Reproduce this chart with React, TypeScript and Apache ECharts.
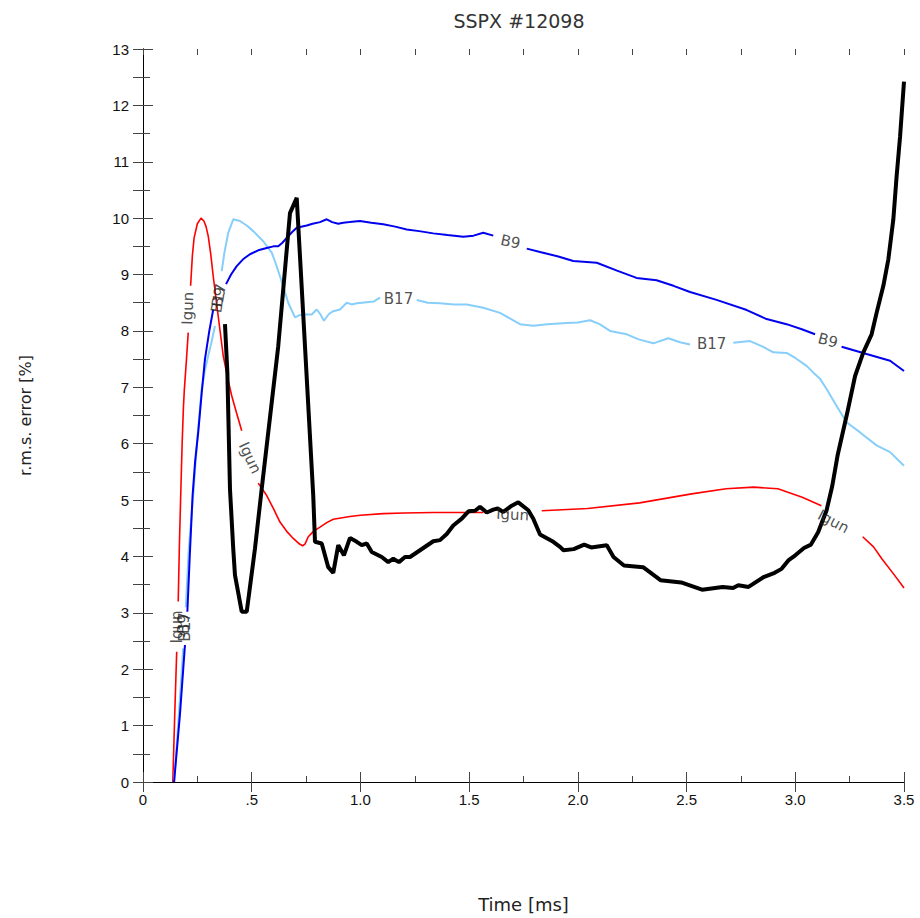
import React, { useEffect, useRef } from "react";
import * as echarts from "echarts";

// Igun (red)
const igun: any[] = [
  [0.137, 0], [0.146, 1.2], [0.155, 2.31], "-",
  [0.162, 3.2], [0.167, 4.14], [0.173, 5.02], [0.18, 6.0], [0.186, 6.65], [0.188, 6.8], [0.19, 6.95], [0.2, 7.5], [0.208, 7.97], "-",
  [0.219, 8.8], [0.227, 9.33], [0.235, 9.65], [0.25, 9.9], [0.267, 10.0], [0.28, 9.95], [0.29, 9.85], [0.3, 9.68], [0.312, 9.35],
  [0.323, 8.97], [0.342, 8.38], [0.369, 7.56], [0.39, 7.15], [0.408, 6.85], [0.43, 6.55], [0.454, 6.23], "-",
  [0.53, 5.3], [0.569, 5.08], [0.6, 4.85], [0.63, 4.61], [0.66, 4.45], [0.691, 4.32], [0.72, 4.22], [0.734, 4.19], [0.745, 4.22],
  [0.76, 4.35], [0.785, 4.45], [0.814, 4.52], [0.845, 4.6], [0.875, 4.66], [0.952, 4.71], [1.0, 4.73], [1.105, 4.76], [1.2, 4.77],
  [1.335, 4.78], [1.45, 4.78], [1.565, 4.78], "-",
  [1.834, 4.81], [2.045, 4.85], [2.284, 4.95], [2.523, 5.11], [2.682, 5.2], [2.809, 5.23], [2.92, 5.2], [3.032, 5.05], [3.12, 4.9], "-",
  [3.31, 4.35], [3.36, 4.17], [3.398, 3.96], [3.45, 3.7], [3.5, 3.44],
];

// B9 (blue)
const b9: any[] = [
  [0.143, 0], [0.17, 1.2], [0.193, 2.43], "-",
  [0.204, 3.02], [0.215, 4.0], [0.228, 5.08], [0.24, 5.7], [0.254, 6.2], [0.27, 6.9], [0.285, 7.5], [0.305, 8.0], [0.323, 8.38], "-",
  [0.382, 8.83], [0.405, 9.0], [0.431, 9.15], [0.46, 9.27], [0.492, 9.36], [0.53, 9.43], [0.569, 9.47], [0.6, 9.5], [0.622, 9.5],
  [0.64, 9.56], [0.661, 9.65], [0.685, 9.75], [0.707, 9.83], [0.753, 9.87], [0.78, 9.9], [0.814, 9.93], [0.845, 9.98], [0.87, 9.93],
  [0.898, 9.9], [0.921, 9.92], [0.95, 9.93], [0.998, 9.95], [1.05, 9.92], [1.105, 9.89], [1.16, 9.85], [1.213, 9.8], [1.27, 9.77],
  [1.335, 9.73], [1.4, 9.7], [1.473, 9.67], [1.52, 9.69], [1.565, 9.74], [1.611, 9.69], "-",
  [1.765, 9.46], [1.826, 9.4], [1.91, 9.32], [1.979, 9.24], [2.087, 9.21], [2.18, 9.07], [2.27, 8.94], [2.362, 8.9], [2.44, 8.8],
  [2.516, 8.69], [2.638, 8.55], [2.777, 8.37], [2.868, 8.21], [2.96, 8.12], [3.03, 8.03], [3.091, 7.94], "-",
  [3.213, 7.72], [3.328, 7.59], [3.436, 7.47], [3.5, 7.29],
];

// B17 (light blue)
const b17: any[] = [
  [0.143, 0], [0.165, 1.2], [0.185, 2.37], "-",
  [0.197, 3.1], [0.21, 4.1], [0.232, 5.14], [0.25, 6.1], [0.27, 6.97], [0.285, 7.3], [0.3, 7.56], [0.315, 7.8], [0.331, 8.09], "-",
  [0.362, 9.06], [0.375, 9.4], [0.392, 9.74], [0.415, 9.98], [0.446, 9.95], [0.48, 9.86], [0.507, 9.77], [0.553, 9.59], [0.592, 9.39],
  [0.61, 9.2], [0.63, 8.97], [0.668, 8.5], [0.699, 8.24], [0.72, 8.28], [0.737, 8.29], [0.776, 8.29], [0.799, 8.38], [0.815, 8.3],
  [0.832, 8.18], [0.855, 8.3], [0.875, 8.35], [0.906, 8.38], [0.937, 8.5], [0.96, 8.47], [0.983, 8.49], [1.029, 8.51], [1.06, 8.52],
  [1.09, 8.59], "-",
  [1.259, 8.55], [1.31, 8.5], [1.366, 8.49], [1.43, 8.47], [1.489, 8.47], [1.565, 8.41], [1.642, 8.32], [1.734, 8.12], [1.795, 8.09],
  [1.86, 8.12], [1.949, 8.14], [2.0, 8.15], [2.056, 8.19], [2.1, 8.12], [2.148, 8.0], [2.225, 7.94], [2.28, 7.85], [2.347, 7.78],
  [2.416, 7.87], [2.47, 7.8], [2.516, 7.76], "-",
  [2.715, 7.79], [2.792, 7.82], [2.85, 7.72], [2.899, 7.62], [2.96, 7.61], [3.0, 7.52], [3.052, 7.38], [3.083, 7.26], [3.114, 7.15],
  [3.144, 6.97], [3.19, 6.67], [3.236, 6.38], [3.298, 6.2], [3.374, 5.97], [3.436, 5.85], [3.5, 5.61],
];

// thick black curve
const black: number[][] = [
  [0.377, 8.12], [0.388, 7.26], [0.4, 5.2], [0.415, 4.14], [0.423, 3.67], [0.454, 3.02], [0.477, 3.02], [0.515, 4.14], [0.546, 5.2],
  [0.622, 7.73], [0.676, 10.09], [0.707, 10.36], [0.745, 7.73], [0.783, 5.08], [0.791, 4.26], [0.822, 4.23], [0.852, 3.81],
  [0.875, 3.71], [0.898, 4.2], [0.924, 4.02], [0.952, 4.33], [0.983, 4.26], [1.006, 4.2], [1.029, 4.23], [1.052, 4.08],
  [1.098, 3.99], [1.128, 3.9], [1.151, 3.96], [1.177, 3.9], [1.205, 3.99], [1.228, 3.99], [1.274, 4.11], [1.335, 4.27],
  [1.366, 4.29], [1.397, 4.4], [1.427, 4.55], [1.466, 4.67], [1.497, 4.8], [1.527, 4.81], [1.55, 4.88], [1.581, 4.78],
  [1.611, 4.83], [1.631, 4.85], [1.657, 4.79], [1.696, 4.9], [1.726, 4.96], [1.772, 4.82], [1.795, 4.67], [1.826, 4.39],
  [1.887, 4.26], [1.918, 4.17], [1.934, 4.11], [1.981, 4.13], [2.029, 4.21], [2.061, 4.16], [2.133, 4.2], [2.164, 3.99],
  [2.212, 3.84], [2.3, 3.81], [2.38, 3.58], [2.475, 3.54], [2.571, 3.41], [2.666, 3.46], [2.714, 3.44], [2.738, 3.49],
  [2.785, 3.46], [2.857, 3.64], [2.905, 3.71], [2.937, 3.78], [2.968, 3.93], [3.0, 4.02], [3.04, 4.15], [3.072, 4.21],
  [3.105, 4.43], [3.144, 4.82], [3.17, 5.25], [3.195, 5.8], [3.215, 6.14], [3.238, 6.53], [3.275, 7.2], [3.313, 7.62],
  [3.351, 7.94], [3.374, 8.32], [3.405, 8.8], [3.428, 9.27], [3.451, 9.98], [3.466, 10.74], [3.482, 11.45], [3.5, 12.42],
];

// contour-style labels: [x, y, text, rotation]
const curveLabels: [number, number, string, number][] = [
  [0.158, 2.75, "Igun", 90],
  [0.19, 2.8, "B9", 90],
  [0.192, 2.75, "B17", 90],
  [0.206, 8.4, "Igun", 88],
  [0.348, 8.6, "B9", 80],
  [0.348, 8.58, "B17", 80],
  [0.492, 5.75, "Igun", -65],
  [1.175, 8.57, "B17", 0],
  [1.69, 9.58, "B9", -12],
  [1.7, 4.74, "Igun", -3],
  [2.615, 7.77, "B17", 0],
  [3.15, 7.83, "B9", -15],
  [3.175, 4.62, "Igun", -28],
];

const yRange = [0, 13];
const xRange = [0, 3.5];
const TITLE = "SSPX #12098";
const X_NAME = "Time [ms]";
const Y_NAME = "r.m.s. error [%]";

const toSeriesData = (arr: any[]) => arr.map((p) => (p === "-" ? ["-", "-"] : p));

export default function App() {
  const ref = useRef<HTMLDivElement>(null);
  useEffect(() => {
    if (!ref.current) return;
    const chart = echarts.init(ref.current, undefined, { renderer: "svg" });
    const tickStyle = { color: "#444", width: 1 };
    const axisLine = { show: true, lineStyle: { color: "#000", width: 1 } };
    const noLine = { show: false };
    const labelFont = "DejaVu Sans";
    const tickAxisX = (position: string, interval: number, length: number, withLine: boolean) => ({
      type: "value",
      min: xRange[0],
      max: xRange[1],
      interval,
      position,
      axisLine: withLine ? axisLine : noLine,
      axisTick: { show: true, inside: true, length, lineStyle: tickStyle },
      splitLine: { show: false },
      axisLabel: { show: false },
    });
    const tickAxisY = (position: string, interval: number, length: number, withLine: boolean) => ({
      type: "value",
      min: yRange[0],
      max: yRange[1],
      interval,
      position,
      axisLine: withLine ? axisLine : noLine,
      axisTick: { show: true, inside: true, length, lineStyle: tickStyle },
      splitLine: { show: false },
      axisLabel: { show: false },
    });
    chart.setOption({
      animation: false,
      backgroundColor: "#fff",
      title: {
        text: TITLE,
        left: 514,
        top: 6,
        textAlign: "center",
        textStyle: { fontFamily: labelFont, fontSize: 19, fontWeight: "normal", color: "#333" },
      },
      grid: { left: 143, right: 16, top: 49, bottom: 134, containLabel: false },
      xAxis: [
        {
          type: "value",
          min: xRange[0],
          max: xRange[1],
          interval: 0.5,
          position: "bottom",
          name: X_NAME,
          nameLocation: "middle",
          nameGap: 113,
          nameTextStyle: { fontFamily: labelFont, fontSize: 18, color: "#222" },
          axisLine,
          axisTick: { show: true, inside: true, length: 10, lineStyle: tickStyle },
          splitLine: { show: false },
          axisLabel: {
            margin: 10,
            fontFamily: "Liberation Sans",
            fontSize: 15,
            color: "#111",
            formatter: (v: number) => (v === 0 ? "0" : v < 1 ? "." + Math.round(v * 10) : v.toFixed(1)),
          },
        },
        tickAxisX("bottom", 0.25, 6, false),
        tickAxisX("top", 0.5, 10, true),
        tickAxisX("top", 0.25, 6, false),
      ],
      yAxis: [
        {
          type: "value",
          min: yRange[0],
          max: yRange[1],
          interval: 1,
          position: "left",
          name: Y_NAME,
          nameLocation: "middle",
          nameGap: 110,
          nameRotate: 90,
          nameTextStyle: { fontFamily: labelFont, fontSize: 16, color: "#222" },
          axisLine,
          axisTick: { show: true, inside: true, length: 10, lineStyle: tickStyle },
          splitLine: { show: false },
          axisLabel: { margin: 14, fontFamily: "Liberation Sans", fontSize: 15, color: "#111" },
        },
        tickAxisY("left", 0.5, 7, false),
        tickAxisY("right", 0.5, 10, true),
      ],
      series: [
        {
          name: "Igun",
          type: "line",
          data: toSeriesData(igun),
          showSymbol: false,
          symbol: "none",
          connectNulls: false,
          lineStyle: { color: "#ff0000", width: 1.6 },
          z: 2,
        },
        {
          name: "B17",
          type: "line",
          data: toSeriesData(b17),
          showSymbol: false,
          symbol: "none",
          connectNulls: false,
          lineStyle: { color: "#87cefa", width: 2 },
          z: 2,
        },
        {
          name: "B9",
          type: "line",
          data: toSeriesData(b9),
          showSymbol: false,
          symbol: "none",
          connectNulls: false,
          lineStyle: { color: "#0000ee", width: 2 },
          z: 3,
        },
        {
          name: "rms",
          type: "line",
          data: black,
          showSymbol: false,
          symbol: "none",
          lineStyle: { color: "#000", width: 4 },
          z: 4,
        },
        {
          name: "labels",
          type: "scatter",
          symbolSize: 0,
          silent: true,
          z: 5,
          data: curveLabels.map(([x, y, t, r]) => ({
            value: [x, y],
            label: {
              show: true,
              position: "inside",
              formatter: t,
              rotate: r,
              fontFamily: labelFont,
              fontSize: 15,
              color: "#222",
            },
          })),
        },
      ],
    });
    return () => chart.dispose();
  }, []);
  return <div ref={ref} style={{ position: "absolute", left: 0, top: 0, width: 920, height: 918 }} />;
}
